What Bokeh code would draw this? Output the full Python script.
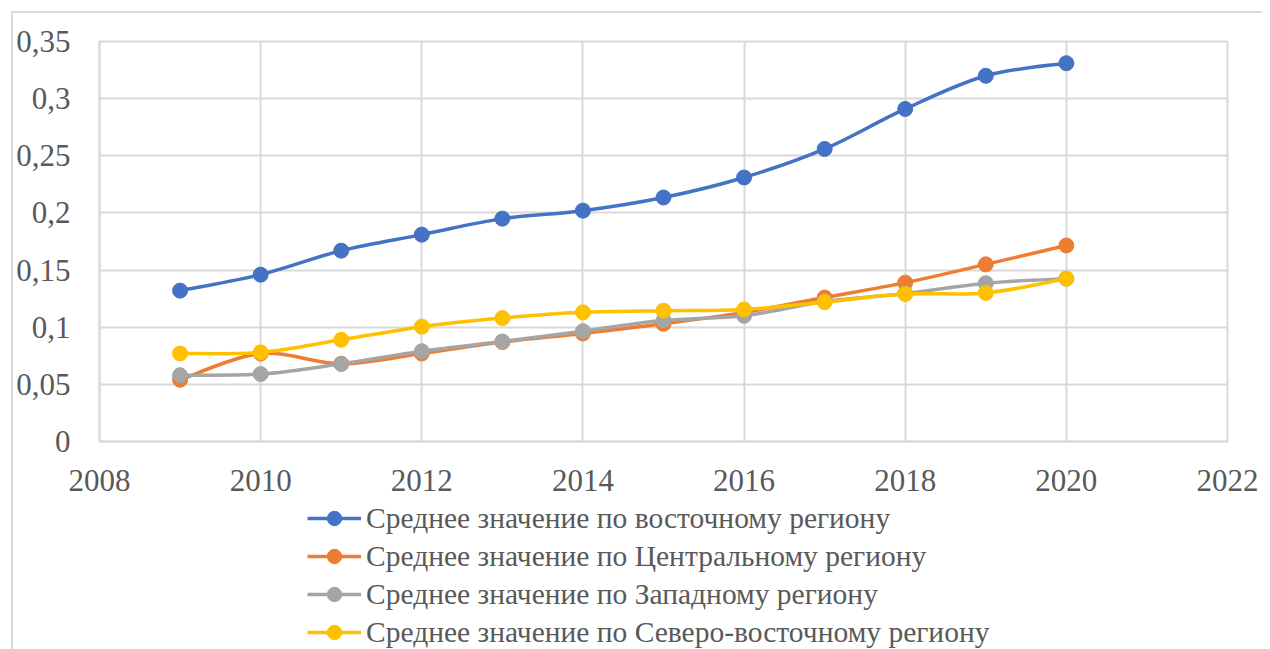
from bokeh.plotting import figure
from bokeh.layouts import column
from bokeh.models import (ColumnDataSource, FixedTicker, CustomJSTickFormatter,
                          Legend, LegendItem, Range1d)
from bokeh.embed import file_html
from bokeh.resources import INLINE

years = [2009, 2010, 2011, 2012, 2013, 2014, 2015, 2016, 2017, 2018, 2019, 2020]
east = [0.132, 0.146, 0.167, 0.181, 0.195, 0.202, 0.2135, 0.231, 0.256, 0.291, 0.320, 0.331]
central = [0.054, 0.077, 0.068, 0.077, 0.087, 0.0945, 0.103, 0.113, 0.126, 0.139, 0.155, 0.1715]
west = [0.058, 0.059, 0.068, 0.079, 0.0875, 0.0965, 0.106, 0.110, 0.1225, 0.1295, 0.1385, 0.1425]
northeast = [0.077, 0.078, 0.089, 0.1005, 0.108, 0.113, 0.1145, 0.1155, 0.122, 0.129, 0.130, 0.1425]

series_names = [
    "Среднее значение по восточному региону",
    "Среднее значение по Центральному региону",
    "Среднее значение по Западному региону",
    "Среднее значение по Северо-восточному региону",
]
series_values = [east, central, west, northeast]
colors = ["#4472C4", "#ED7D31", "#A5A5A5", "#FFC000"]
x_ticks = [2008, 2010, 2012, 2014, 2016, 2018, 2020, 2022]
y_ticks = [0, 0.05, 0.1, 0.15, 0.2, 0.25, 0.3, 0.35]

FONT = "Liberation Serif"
GRID = "#d9d9d9"
TXT = "#595959"


def smooth_segments(xs, ys):
    """Catmull-Rom style Bezier control points for a smoothed line through the data."""
    n = len(xs)
    d = dict(x0=[], y0=[], x1=[], y1=[], cx0=[], cy0=[], cx1=[], cy1=[])
    for i in range(n - 1):
        p0 = (xs[max(i - 1, 0)], ys[max(i - 1, 0)])
        p1 = (xs[i], ys[i])
        p2 = (xs[i + 1], ys[i + 1])
        p3 = (xs[min(i + 2, n - 1)], ys[min(i + 2, n - 1)])
        d["x0"].append(p1[0]); d["y0"].append(p1[1])
        d["x1"].append(p2[0]); d["y1"].append(p2[1])
        d["cx0"].append(p1[0] + (p2[0] - p0[0]) / 6.0)
        d["cy0"].append(p1[1] + (p2[1] - p0[1]) / 6.0)
        d["cx1"].append(p2[0] - (p3[0] - p1[0]) / 6.0)
        d["cy1"].append(p2[1] - (p3[1] - p1[1]) / 6.0)
    return d


p = figure(width=1249, height=488, output_backend="svg", toolbar_location=None,
           x_range=Range1d(2008, 2022), y_range=Range1d(0, 0.35),
           min_border_left=85, min_border_right=35, min_border_top=28,
           min_border_bottom=60)
p.outline_line_color = GRID
p.outline_line_width = 2
p.background_fill_color = "white"
p.border_fill_color = "white"

p.xaxis.ticker = FixedTicker(ticks=x_ticks)
p.yaxis.ticker = FixedTicker(ticks=y_ticks)
p.yaxis.formatter = CustomJSTickFormatter(code="""
    var s = tick.toFixed(2);
    s = s.replace(/0+$/, '').replace(/\\.$/, '');
    return s.replace('.', ',');
""")
for ax in (p.xaxis, p.yaxis):
    ax.axis_line_color = GRID
    ax.axis_line_width = 2
    ax.major_tick_line_color = None
    ax.minor_tick_line_color = None
    ax.major_tick_out = 0
    ax.major_tick_in = 0
    ax.minor_tick_out = 0
    ax.minor_tick_in = 0
    ax.major_label_text_font = FONT
    ax.major_label_text_font_size = "31px"
    ax.major_label_text_color = TXT
p.xaxis.major_label_standoff = 28
p.yaxis.major_label_standoff = 29

p.xgrid.grid_line_color = GRID
p.ygrid.grid_line_color = GRID
p.xgrid.grid_line_width = 2
p.ygrid.grid_line_width = 2

# Legend panel: a second figure whose view excludes the data, used only to host the legend
q = figure(width=1249, height=148, output_backend="svg", toolbar_location=None,
           x_range=Range1d(0, 1), y_range=Range1d(0, 1),
           min_border_left=0, min_border_right=0, min_border_top=0,
           min_border_bottom=0)
q.axis.visible = False
q.grid.visible = False
q.outline_line_color = None
q.border_fill_color = "white"

items = []
for name, vals, col in zip(series_names, series_values, colors):
    seg = ColumnDataSource(smooth_segments(years, vals))
    pts = ColumnDataSource(dict(x=years, y=vals))
    p.bezier(x0="x0", y0="y0", x1="x1", y1="y1", cx0="cx0", cy0="cy0",
             cx1="cx1", cy1="cy1", source=seg, line_color=col, line_width=3.5,
             line_cap="round")
    p.scatter(x="x", y="y", source=pts, size=15, fill_color=col, line_color=col)
    lr = q.line(x="x", y="y", source=pts, line_color=col, line_width=3.3)
    sr = q.scatter(x="x", y="y", source=pts, size=14, fill_color=col, line_color=col)
    items.append(LegendItem(label=name, renderers=[lr, sr]))

legend = Legend(items=items, location=(208, -1), orientation="vertical",
                label_text_font=FONT, label_text_font_size="29.5px",
                label_text_color=TXT, glyph_width=54, glyph_height=36,
                label_height=36, label_standoff=5, spacing=2, padding=0,
                margin=0, border_line_color=None, background_fill_alpha=0)
q.add_layout(legend)

layout = column(p, q, spacing=0, margin=(11, 0, 0, 11),
                styles={"border-left": "2px solid #d9d9d9",
                        "border-top": "2px solid #d9d9d9"})

open("out.html", "w").write(file_html(layout, INLINE))
